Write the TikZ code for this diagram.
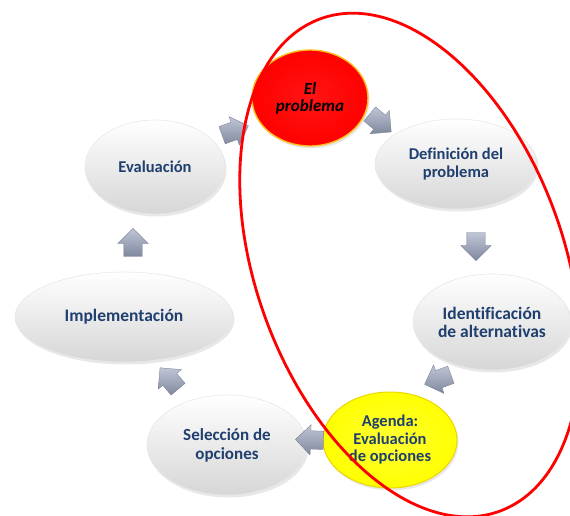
\documentclass[tikz,border=0pt]{standalone}
\usepackage{fontspec}
\setmainfont[Ligatures=NoCommon]{Carlito}
\usetikzlibrary{shapes.geometric,shapes.arrows,shadows}
\definecolor{txt}{HTML}{1F3F6E}
\definecolor{arr}{RGB}{150,160,186}
\begin{document}
\begin{tikzpicture}[x=1pt,y=-1pt,
  bub/.style={ellipse, inner sep=0pt, align=center,
    font=\fontsize{16.5}{18}\selectfont\bfseries, text=txt,
    draw=gray!18, line width=0.6pt, top color=white, bottom color=gray!32,
    drop shadow={opacity=0.18, shadow xshift=1.5pt, shadow yshift=-2.5pt}},
  hotbub/.style={ellipse, inner sep=0pt, align=center,
    font=\fontsize{17}{17}\selectfont\bfseries\itshape, text=black,
    draw={rgb,255:red,255;green,190;blue,30}, line width=1.4pt,
    inner color=red!92!white, outer color=red,
    drop shadow={opacity=0.18, shadow xshift=1.5pt, shadow yshift=-2.5pt}},
  yelbub/.style={ellipse, inner sep=0pt, align=center,
    font=\fontsize{16.5}{17.5}\selectfont\bfseries, text=txt,
    draw={rgb,255:red,235;green,215;blue,0}, line width=1pt,
    inner color=yellow!80!white, outer color=yellow,
    drop shadow={opacity=0.18, shadow xshift=1.5pt, shadow yshift=-2.5pt}},
  blk/.style={single arrow, inner xsep=0pt, inner ysep=9pt, minimum height=28pt,
    single arrow head extend=6pt, single arrow head indent=0pt,
    top color=arr!60!white, bottom color=arr!85!black, draw=arr!75!black, line width=0.3pt},
  loop/.style={draw=red, line width=2.8pt}]
\useasboundingbox (0,0) rectangle (570,516);
\fill[white] (0,0) rectangle (570,516);

% bubbles
\node[bub, minimum width=140pt, minimum height=94pt] (eval) at (155,167) {Evaluaci\'on};
\node[hotbub, minimum width=116pt, minimum height=96pt] (prob) at (310,98) {El\\problema};
\node[bub, minimum width=162pt, minimum height=90pt] (defi) at (456,164) {Definici\'on del\\problema};
\node[bub, minimum width=158pt, minimum height=96pt, font=\fontsize{17.5}{18}\selectfont\bfseries] (iden) at (492,322) {Identificaci\'on\\de alternativas};
\node[yelbub, minimum width=134pt, minimum height=96pt] (agen) at (390,440) {Agenda:\\Evaluaci\'on\\de opciones};
\node[bub, minimum width=160pt, minimum height=100pt, font=\fontsize{17}{19}\selectfont\bfseries] (sele) at (227,445) {Selecci\'on de\\opciones};
\node[bub, minimum width=218pt, minimum height=90pt, font=\fontsize{17.5}{19}\selectfont\bfseries] (impl) at (124,317) {Implementaci\'on};

% block arrows
\node[blk, rotate=20] (a1) at (231,132) {};
\node[blk, rotate=-40] (a2) at (377,120) {};
\node[blk, rotate=-90] (a3) at (476,242) {};
\node[blk, rotate=200] (a4) at (442,378) {};
\node[blk, rotate=178] (a5) at (314,440) {};
\node[blk, rotate=130] (a6) at (172,382) {};
\node[blk, rotate=90] (a7) at (133,247) {};

% red outline
\draw[loop, rotate around={20:(410,265)}] (410,265) ellipse [x radius=154, y radius=262];
\end{tikzpicture}
\end{document}
